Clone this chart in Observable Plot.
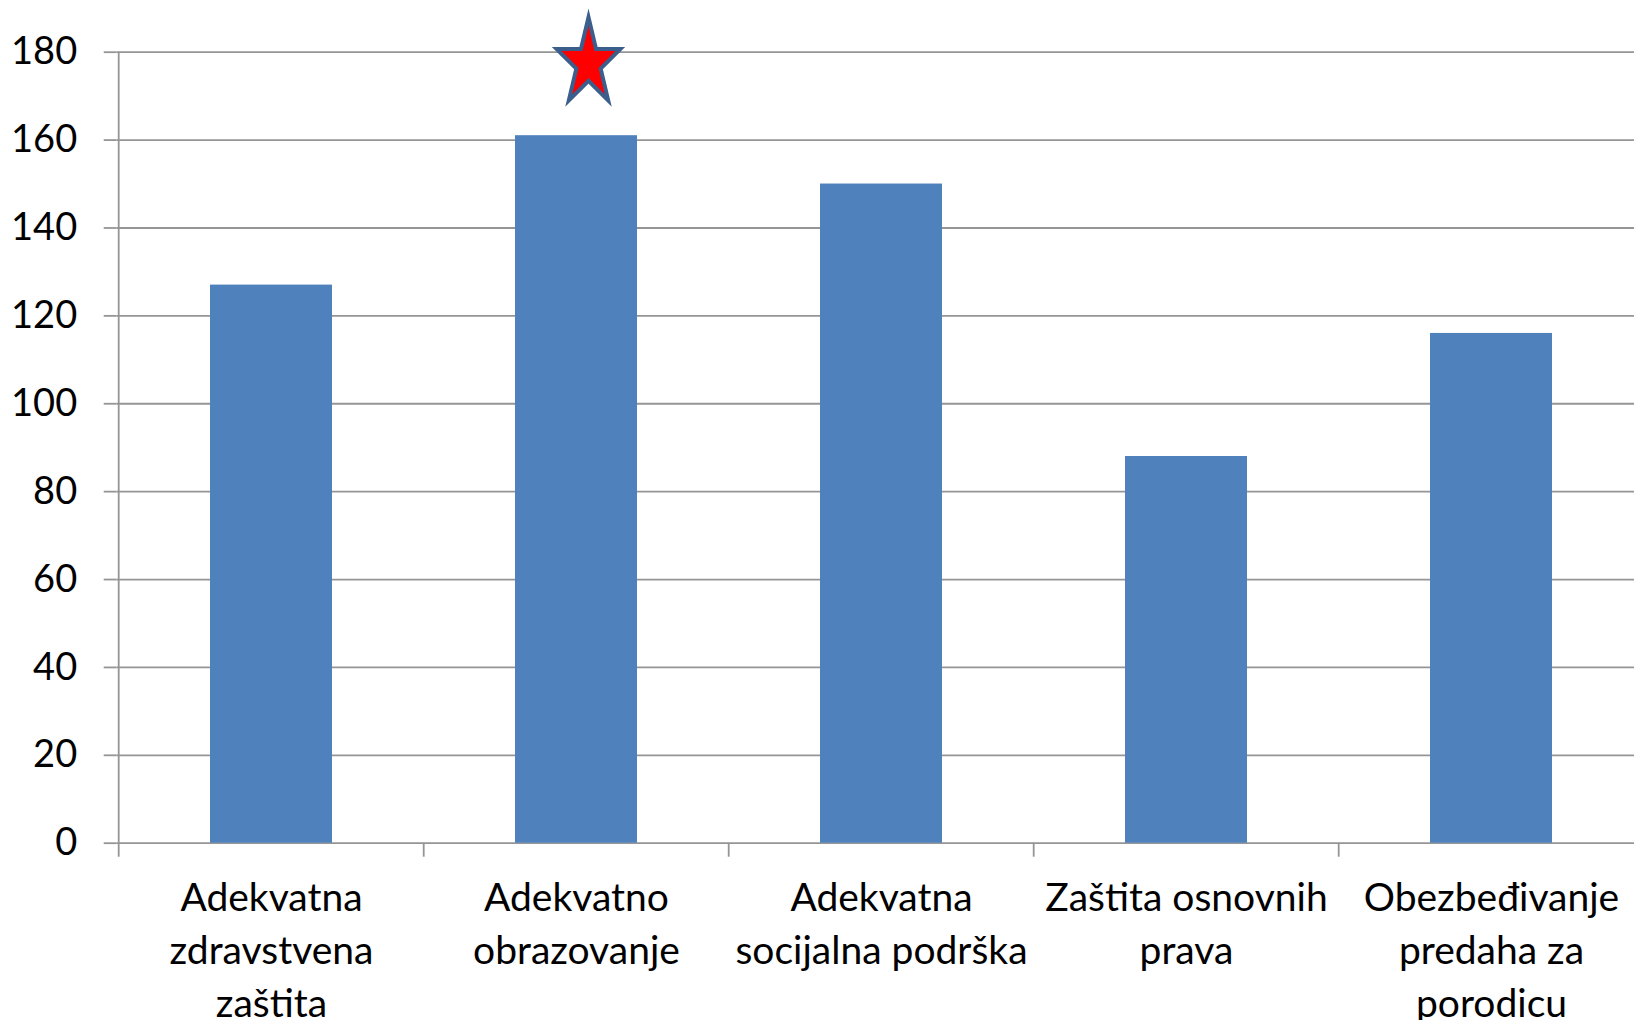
<!DOCTYPE html>
<html>
<head>
<meta charset="utf-8">
<script src="https://cdn.jsdelivr.net/npm/d3@7"></script>
<script src="https://cdn.jsdelivr.net/npm/@observablehq/plot@0.6"></script>
<style>
  html, body { margin: 0; padding: 0; background: #fff; }
  #chart svg { display: block; overflow: visible; }
</style>
</head>
<body>
<div id="chart"></div>
<script>
// ---- data ----
const categories = [
  "Adekvatna zdravstvena zaštita",
  "Adekvatno obrazovanje",
  "Adekvatna socijalna podrška",
  "Zaštita osnovnih prava",
  "Obezbeđivanje predaha za porodicu"
];
const values = [127, 161, 150, 88, 116];
const tickLabels = [
  "Adekvatna\nzdravstvena\nzaštita",
  "Adekvatno\nobrazovanje",
  "Adekvatna\nsocijalna podrška",
  "Zaštita osnovnih\nprava",
  "Obezbeđivanje\npredaha za\nporodicu"
];
const yTicks = [0, 20, 40, 60, 80, 100, 120, 140, 160, 180];
const starCategory = "Adekvatno obrazovanje";
const starValue = 177.5;

// ---- layout ----
const W = 1634, H = 1020;
const mLeft = 116.7, mTop = 51.7, yBottom = 842.7;
const step = 305.6;
const gridColor = "#959595";

const table = categories.map((c, i) => ({category: c, value: values[i]}));

// tall five-pointed star symbol
const starSymbol = {
  draw(ctx) {
    const sx = 33.5, sy = 46;
    for (let k = 0; k < 10; k++) {
      const a = (-90 + k * 36) * Math.PI / 180;
      const r = k % 2 ? 0.382 : 1;
      const px = Math.cos(a) * r * sx, py = Math.sin(a) * r * sy;
      if (k === 0) ctx.moveTo(px, py); else ctx.lineTo(px, py);
    }
    ctx.closePath();
  }
};

const chart = Plot.plot({
  width: W,
  height: H,
  marginLeft: mLeft,
  marginRight: 0,
  marginTop: mTop,
  marginBottom: H - yBottom,
  style: {fontFamily: "Lato, 'Open Sans', sans-serif", fontSize: "38px", color: "#000", background: "#fff", overflow: "visible"},
  x: {type: "band", domain: categories, range: [mLeft, mLeft + 5 * step], paddingInner: 0.6, paddingOuter: 0.3, label: null},
  y: {domain: [0, 180], range: [yBottom, mTop], label: null},
  marks: [
    Plot.ruleY(yTicks, {stroke: gridColor, strokeWidth: 1.8}),
    Plot.barY(table, {x: "category", y: "value", fill: "#4F81BD"}),
    Plot.ruleX([categories[0]], {y1: 0, y2: 180, dx: -step / 2, stroke: gridColor, strokeWidth: 1.8}),
    Plot.axisX({tickSize: 14, tickFormat: () => "", dx: -step / 2, stroke: gridColor, strokeWidth: 1.8, label: null}),
    Plot.axisX({tickSize: 0, tickPadding: 30, lineHeight: 1.36, fontSize: 39,
      tickFormat: d => tickLabels[categories.indexOf(d)], label: null}),
    Plot.axisY({ticks: yTicks, tickSize: 13, tickPadding: 27, stroke: gridColor, strokeWidth: 1.8, fontSize: 38, label: null}),
    Plot.dot([{category: starCategory, value: starValue}], {
      x: "category", y: "value", symbol: starSymbol, dx: 12,
      fill: "#FF0000", stroke: "#3B5E8C", strokeWidth: 4, strokeLinejoin: "miter", strokeMiterlimit: 12
    })
  ]
});
document.getElementById("chart").append(chart);
</script>
</body>
</html>
